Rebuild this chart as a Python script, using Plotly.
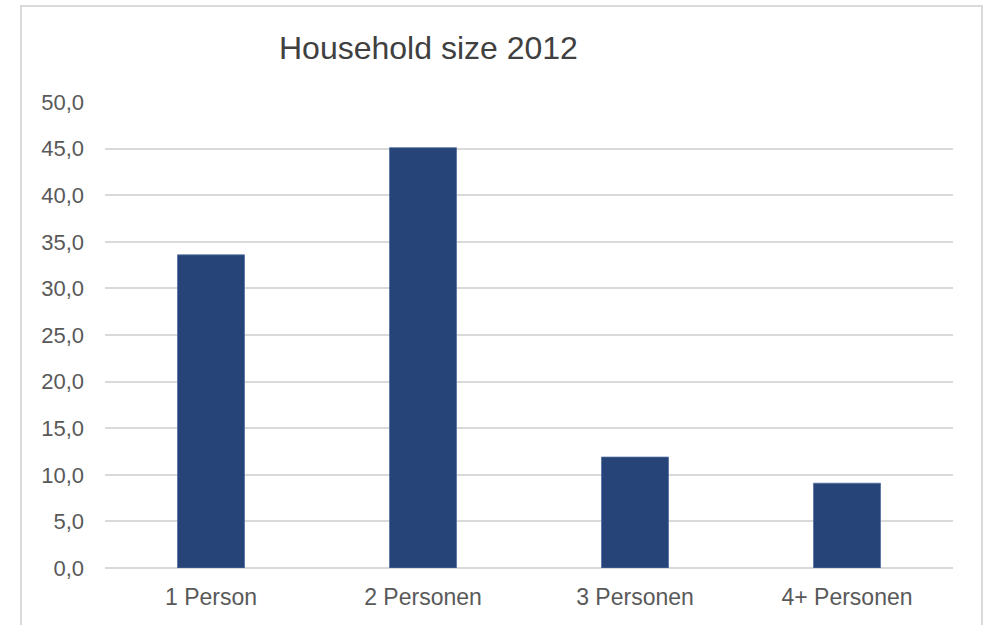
import plotly.graph_objects as go

# Household size distribution, share of households in percent
categories = ["1 Person", "2 Personen", "3 Personen", "4+ Personen"]
shares = [33.6, 45.1, 11.9, 9.1]
y_ticks = [0, 5, 10, 15, 20, 25, 30, 35, 40, 45, 50]

W, H = 987, 625
L, R, T, B = 105, 34, 102, 57
plot_w = W - L - R
plot_h = H - T - B


def px_x(px):
    return (px - L) / plot_w


def px_y(py):
    return (H - B - py) / plot_h


fig = go.Figure(
    go.Bar(
        x=categories,
        y=shares,
        width=0.316,
        marker=dict(color="#264478", line=dict(color="#5470a0", width=0.8)),
        hoverinfo="x+y",
    )
)

fig.update_layout(
    width=W,
    height=H,
    margin=dict(l=L, r=R, t=T, b=B),
    paper_bgcolor="white",
    plot_bgcolor="white",
    separators=",.",
    showlegend=False,
    font=dict(family="Liberation Sans, Arial, sans-serif", color="#595959"),
    annotations=[
        dict(
            text="Household size 2012",
            xref="paper", yref="paper",
            x=px_x(428), y=px_y(48),
            xanchor="center", yanchor="middle",
            showarrow=False,
            font=dict(size=32, color="#404040"),
        )
    ],
    shapes=[
        dict(
            type="rect", xref="paper", yref="paper",
            x0=px_x(21), x1=px_x(982), y0=px_y(640), y1=px_y(6),
            line=dict(color="#d9d9d9", width=2),
            layer="below",
        )
    ],
)

fig.update_xaxes(
    showgrid=False,
    showline=False,
    ticks="",
    tickfont=dict(size=23, color="#595959"),
    ticklabelstandoff=13,
)

fig.update_yaxes(
    range=[0, 50],
    tickvals=y_ticks,
    tickformat=".1f",
    showgrid=True,
    gridcolor="#d9d9d9",
    gridwidth=1.5,
    zeroline=True,
    zerolinecolor="#d9d9d9",
    zerolinewidth=1.5,
    showline=False,
    ticks="",
    tickfont=dict(size=22, color="#595959"),
    ticklabelstandoff=20,
)

fig.write_html("out.html")
